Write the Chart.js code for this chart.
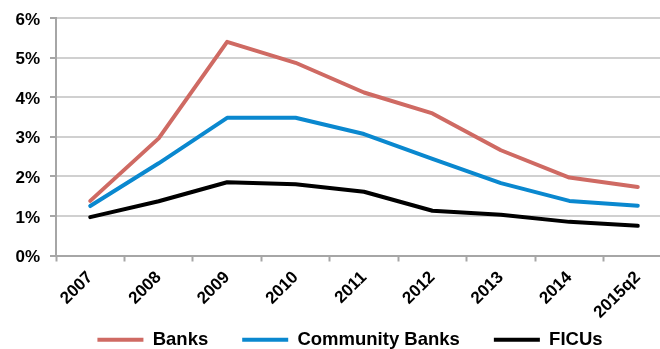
<!DOCTYPE html>
<html>
<head>
<meta charset="utf-8">
<script src="https://cdn.jsdelivr.net/npm/chart.js@4"></script>
<style>
  html, body { margin: 0; padding: 0; background: #fff; overflow: hidden; }
  #wrap { width: 700px; height: 349px; }
</style>
</head>
<body>
<div id="wrap"><canvas id="chart" width="700" height="349"></canvas></div>
<script>
const years = ['2007', '2008', '2009', '2010', '2011', '2012', '2013', '2014', '2015q2'];
const banks = [1.38, 2.96, 5.40, 4.87, 4.12, 3.59, 2.66, 1.97, 1.73];
const communityBanks = [1.25, 2.33, 3.48, 3.48, 3.07, 2.44, 1.83, 1.38, 1.26];
const ficus = [0.97, 1.37, 1.85, 1.80, 1.61, 1.13, 1.03, 0.85, 0.75];
const yTicks = [0, 1, 2, 3, 4, 5, 6];

const font = { family: '"Liberation Sans", Arial, sans-serif', weight: 'bold' };
const axisGray = '#A6A6A6';

function line(label, data, color) {
    return {
        label: label,
        data: data,
        borderColor: color,
        backgroundColor: color,
        borderWidth: 4,
        borderCapStyle: 'round',
        borderJoinStyle: 'round',
        pointRadius: 0,
        tension: 0,
        fill: false
    };
}

// the rotated year labels hang down into the legend strip, so don't clip them to the axis box
const unclipXLabels = {
    id: 'unclipXLabels',
    afterLayout(chart) {
        chart.scales.x.bottom = chart.height;
    }
};

const ctx = document.getElementById('chart');
new Chart(ctx, {
    type: 'line',
    data: {
        labels: years,
        datasets: [
            line('Banks', banks, '#CF6A63'),
            line('Community Banks', communityBanks, '#0A88CF'),
            line('FICUs', ficus, '#000000')
        ]
    },
    plugins: [unclipXLabels],
    options: {
        responsive: false,
        animation: false,
        layout: { padding: { top: 6, right: 0, left: 0, bottom: -10 } },
        scales: {
            x: {
                offset: true,
                grid: { offset: true, drawOnChartArea: false, drawTicks: true, tickLength: 6, tickColor: axisGray, tickWidth: 2 },
                border: { color: axisGray, width: 2 },
                ticks: {
                    minRotation: 45, maxRotation: 45, padding: 6,
                    color: '#000', font: { ...font, size: 17 }
                },
                afterFit: s => { s.height = 41; }
            },
            y: {
                min: 0, max: 6,
                afterBuildTicks: s => { s.ticks = yTicks.map(v => ({ value: v })); },
                grid: { color: '#D0D0D0', lineWidth: 2, tickLength: 6, tickColor: axisGray, tickWidth: 2 },
                border: { color: axisGray, width: 2 },
                ticks: {
                    padding: 10, labelOffset: 2, color: '#000',
                    font: { ...font, size: 17, lineHeight: 0.95 },
                    callback: v => v + '%'
                },
                afterFit: s => { s.width = 56; }
            },
            // empty strip on the right so the plot runs past the window edge like the original
            y2: {
                position: 'right',
                grid: { display: false },
                border: { display: false },
                ticks: { display: false },
                afterFit: s => { s.width = 28; }
            }
        },
        plugins: {
            tooltip: { enabled: false },
            legend: {
                position: 'bottom',
                labels: {
                    usePointStyle: true,
                    pointStyle: 'line',
                    pointStyleWidth: 46,
                    padding: 34,
                    color: '#000',
                    font: { ...font, size: 18.5 }
                }
            }
        }
    }
});
</script>
</body>
</html>
